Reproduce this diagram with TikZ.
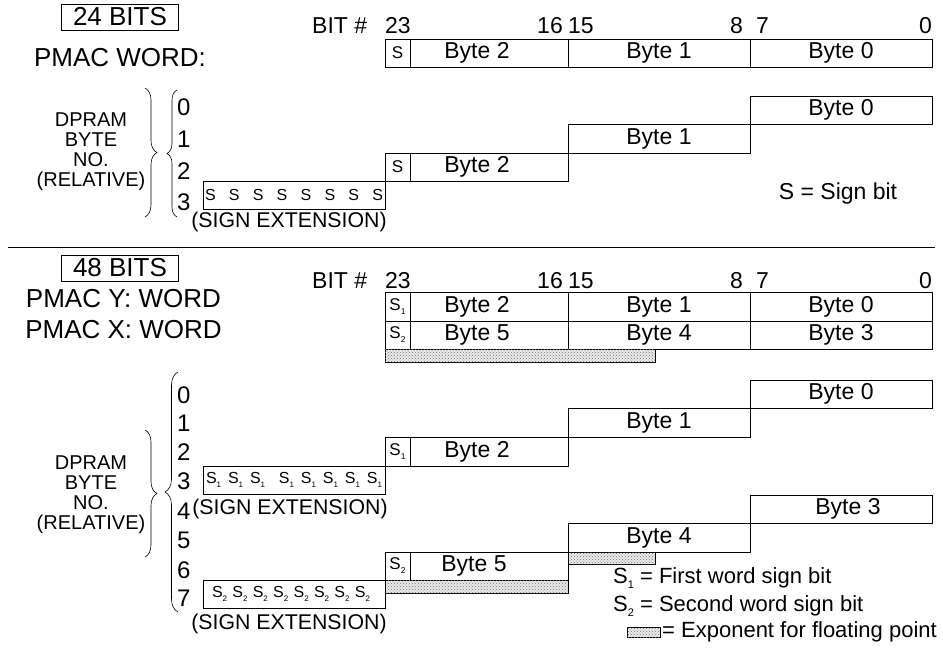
\documentclass[tikz,border=0pt]{standalone}
\usepackage{fontspec}
\setmainfont{Liberation Sans}
\usetikzlibrary{decorations.pathreplacing,patterns}
\newcommand{\Ssub}[1]{S\raisebox{-0.45ex}{\scalebox{0.5}{#1}}}
\tikzset{
	reg/.style={line width=0.8pt},
	expo/.style={line width=0.8pt,fill=black!8,postaction={pattern=crosshatch dots,pattern color=black!55}},
	txt/.style={inner sep=0pt,font=\fontsize{23}{26}\selectfont},
	key/.style={inner sep=0pt,anchor=west,font=\fontsize{22}{24}\selectfont},
	sx/.style={inner sep=0pt,font=\fontsize{21.3}{24}\selectfont},
	head/.style={inner sep=0pt,font=\fontsize{26}{30}\selectfont},
	num/.style={inner sep=0pt,anchor=west,font=\fontsize{24}{26}\selectfont},
	sfont/.style={inner sep=0pt,font=\fontsize{17}{19}\selectfont},
	efont/.style={inner sep=0pt,text width=#1,font=\fontsize{16}{18}\selectfont},
	lbl/.style={inner sep=0pt,align=center,font=\fontsize{20}{20}\selectfont},
	titlebox/.style={draw,line width=0.8pt,minimum width=117pt,minimum height=26pt,inner sep=0pt,font=\fontsize{26}{30}\selectfont},
	brc/.style={decorate,decoration={brace,amplitude=#1},line width=0.6pt}
}
\begin{document}
\begin{tikzpicture}[x=1pt,y=-1pt]
	\useasboundingbox (0,0) rectangle (943,654);

	% 24 bit word
	\draw (120,17) node (t24)[titlebox]{24 BITS};
	\draw (120,58) node (pw)[head]{PMAC WORD:};
	\draw (312,33) node (bitA)[txt,anchor=base west]{BIT \#};
	\draw (385,33) node (a23)[txt,anchor=base west]{23};
	\draw (563,33) node (a16)[txt,anchor=base east]{16};
	\draw (568,33) node (a15)[txt,anchor=base west]{15};
	\draw (743,33) node (a8)[txt,anchor=base east]{8};
	\draw (756,33) node (a7)[txt,anchor=base west]{7};
	\draw (932,33) node (a0)[txt,anchor=base east]{0};

	\draw[reg] (385,39) rectangle (932,67);
	\draw[reg] (410,39) -- (410,67);
	\draw[reg] (568,39) -- (568,67);
	\draw[reg] (750,39) -- (750,67);
	\draw (397.5,53) node (ws)[sfont]{S};
	\draw (477,53) node (wb2)[txt]{Byte 2};
	\draw (659,53) node (wb1)[txt]{Byte 1};
	\draw (841,53) node (wb0)[txt]{Byte 0};

	\draw[reg] (750,96) rectangle (932,124);
	\draw[reg] (568,124) rectangle (750,153);
	\draw[reg] (385,153) rectangle (568,181);
	\draw[reg] (410,153) -- (410,181);
	\draw[reg] (203,181) rectangle (385,209);
	\draw (841,110) node (db0)[txt]{Byte 0};
	\draw (659,138.5) node (db1)[txt]{Byte 1};
	\draw (397.5,167) node (ds)[sfont]{S};
	\draw (477,167) node (db2)[txt]{Byte 2};
	\draw (294,195) node (dext)[efont=178pt]{S\hfill S\hfill S\hfill S\hfill S\hfill S\hfill S\hfill S};
	\draw (289,222) node (dsx)[sx]{(SIGN EXTENSION)};
	\draw (838,194) node (skey)[txt]{S = Sign bit};

	\draw (177,107) node (n0)[num]{0};
	\draw (177,139.5) node (n1)[num]{1};
	\draw (177,171) node (n2)[num]{2};
	\draw (177,202) node (n3)[num]{3};
	\draw (91,152) node (dpA)[lbl]{DPRAM\\BYTE\\NO.\\(RELATIVE)};
	\draw[brc=12pt] (145,88) -- (145,217);
	\draw[brc=10pt] (177,217) -- (177,90);

	\draw[line width=1pt] (8,247) -- (935,247);

	% 48 bit word
	\draw (120,268) node (t48)[titlebox]{48 BITS};
	\draw (123.5,299) node (py)[head]{PMAC Y: WORD};
	\draw (123.5,329.5) node (px)[head]{PMAC X: WORD};
	\draw (312,288) node (bitB)[txt,anchor=base west]{BIT \#};
	\draw (385,288) node (b23)[txt,anchor=base west]{23};
	\draw (563,288) node (b16)[txt,anchor=base east]{16};
	\draw (568,288) node (b15)[txt,anchor=base west]{15};
	\draw (743,288) node (b8)[txt,anchor=base east]{8};
	\draw (756,288) node (b7)[txt,anchor=base west]{7};
	\draw (932,288) node (b0)[txt,anchor=base east]{0};

	\draw[reg] (385,292) rectangle (932,349);
	\draw[reg] (385,321) -- (932,321);
	\draw[reg] (410,292) -- (410,349);
	\draw[reg] (568,292) -- (568,349);
	\draw[reg] (750,292) -- (750,349);
	\draw[expo] (385,349) rectangle (655,362);
	\draw (397.5,306.5) node (ys)[sfont]{\Ssub{1}};
	\draw (477,306.5) node (yb2)[txt]{Byte 2};
	\draw (659,306.5) node (yb1)[txt]{Byte 1};
	\draw (841,306.5) node (yb0)[txt]{Byte 0};
	\draw (397.5,335) node (xs)[sfont]{\Ssub{2}};
	\draw (477,335) node (xb5)[txt]{Byte 5};
	\draw (659,335) node (xb4)[txt]{Byte 4};
	\draw (841,335) node (xb3)[txt]{Byte 3};

	\draw[reg] (750,380) rectangle (932,408);
	\draw[reg] (568,408) rectangle (750,437);
	\draw[reg] (385,437) rectangle (568,466);
	\draw[reg] (410,437) -- (410,466);
	\draw[reg] (203,466) rectangle (385,494);
	\draw[reg] (750,495) rectangle (932,523);
	\draw[reg] (568,523) rectangle (750,552);
	\draw[expo] (568,552) rectangle (655,564);
	\draw[reg] (385,552) rectangle (568,580);
	\draw[reg] (410,552) -- (410,580);
	\draw[expo] (385,580) rectangle (568,593);
	\draw[reg] (203,580) rectangle (385,608);
	\draw (841,394) node (eb0)[txt]{Byte 0};
	\draw (659,422.5) node (eb1)[txt]{Byte 1};
	\draw (397.5,451.5) node (es1)[sfont]{\Ssub{1}};
	\draw (477,451.5) node (eb2)[txt]{Byte 2};
	\draw (294,480) node (eext1)[efont=176pt]{\Ssub{1}\hfill\Ssub{1}\hfill\Ssub{1}\hfill\hfill\Ssub{1}\hfill\Ssub{1}\hfill\Ssub{1}\hfill\Ssub{1}\hfill\Ssub{1}};
	\draw (290,509) node (esx1)[sx]{(SIGN EXTENSION)};
	\draw (848,509) node (eb3)[txt]{Byte 3};
	\draw (659,537.5) node (eb4)[txt]{Byte 4};
	\draw (397.5,566) node (es2)[sfont]{\Ssub{2}};
	\draw (474,566) node (eb5)[txt]{Byte 5};
	\draw (291,594) node (eext2)[efont=158pt]{\Ssub{2}\hfill\Ssub{2}\hfill\Ssub{2}\hfill\Ssub{2}\hfill\Ssub{2}\hfill\Ssub{2}\hfill\Ssub{2}\hfill\Ssub{2}};
	\draw (289,624) node (esx2)[sx]{(SIGN EXTENSION)};

	\draw (177,395) node (m0)[num]{0};
	\draw (177,423) node (m1)[num]{1};
	\draw (177,452) node (m2)[num]{2};
	\draw (177,481) node (m3)[num]{3};
	\draw (177,511) node (m4)[num]{4};
	\draw (177,540) node (m5)[num]{5};
	\draw (177,570) node (m6)[num]{6};
	\draw (177,598) node (m7)[num]{7};
	\draw (91,495) node (dpB)[lbl]{DPRAM\\BYTE\\NO.\\(RELATIVE)};
	\draw[brc=12pt] (145,430) -- (145,557);
	\draw[brc=13pt] (178,612) -- (178,372);

	% key
	\draw (613,578) node (k1)[key]{\Ssub{1} = First word sign bit};
	\draw (613,606) node (k2)[key]{\Ssub{2} = Second word sign bit};
	\draw[expo,line width=0.6pt] (627,627) rectangle (660,637);
	\draw (662,632) node (k3)[key]{= Exponent for floating point};
\end{tikzpicture}
\end{document}
